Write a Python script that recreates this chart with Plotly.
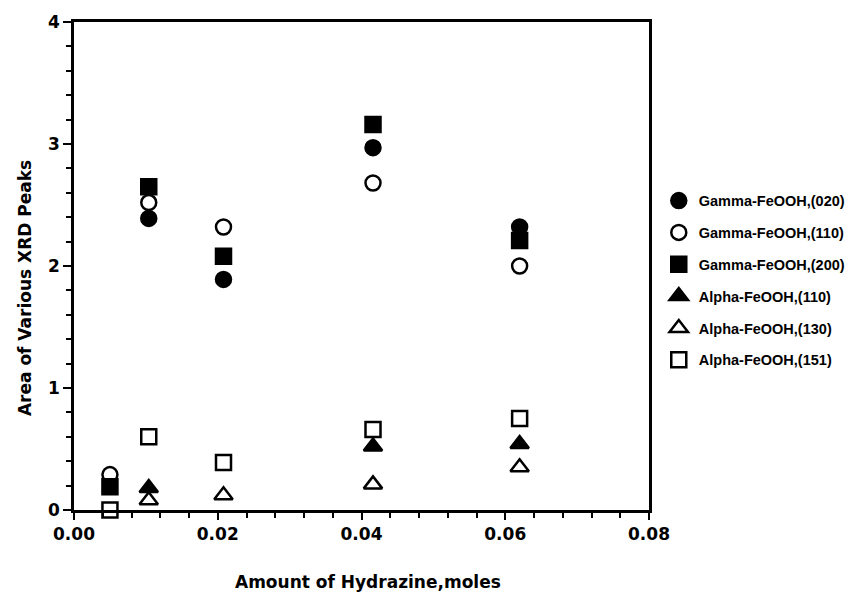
import plotly.graph_objects as go

# Hydrazine amount (moles) for each sample
hydrazine = [0.005, 0.0104, 0.0208, 0.0416, 0.062]

# Integrated XRD peak areas per reflection
gamma_020 = [None, 2.39, 1.89, 2.97, 2.32]
gamma_110 = [0.29, 2.52, 2.32, 2.68, 2.00]
gamma_200 = [0.19, 2.65, 2.08, 3.16, 2.21]
alpha_110 = [None, 0.18, None, 0.52, 0.54]
alpha_130 = [None, 0.08, 0.12, 0.21, 0.35]
alpha_151 = [0.00, 0.60, 0.39, 0.66, 0.75]

x_ticks = [0.00, 0.02, 0.04, 0.06, 0.08]
y_ticks = [0, 1, 2, 3, 4]

series = [
    ("Gamma-FeOOH,(020)", gamma_020, "circle", "black"),
    ("Gamma-FeOOH,(110)", gamma_110, "circle", "white"),
    ("Gamma-FeOOH,(200)", gamma_200, "square", "black"),
    ("Alpha-FeOOH,(110)", alpha_110, "triangle-up", "black"),
    ("Alpha-FeOOH,(130)", alpha_130, "triangle-up", "white"),
    ("Alpha-FeOOH,(151)", alpha_151, "square", "white"),
]

fig = go.Figure()
for i, (name, vals, sym, fill) in enumerate(series):
    size = 16 if sym == "triangle-up" else 15
    fig.add_trace(go.Scatter(
        x=hydrazine, y=vals, mode="markers", name=name,
        legendgroup=f"g{i}",
        cliponaxis=False,
        marker=dict(symbol=sym, size=size, color=fill,
                    line=dict(color="black", width=2.5)),
    ))

fig.update_layout(
    width=854, height=601,
    margin=dict(l=74, r=205, t=22, b=91, autoexpand=False),
    paper_bgcolor="white", plot_bgcolor="white",
    showlegend=True,
    legend=dict(
        x=1.017, xanchor="left", y=0.47, yanchor="middle",
        font=dict(family="Liberation Sans", size=14.5, color="black", weight="bold"),
        tracegroupgap=10,
        bgcolor="rgba(0,0,0,0)",
    ),
    xaxis=dict(
        range=[0, 0.08], tickvals=x_ticks,
        ticktext=[f"{v:.2f}" for v in x_ticks],
        ticks="outside", ticklen=7, tickwidth=2, tickcolor="black",
        minor=dict(dtick=0.004, ticks="outside", ticklen=5, tickwidth=2, tickcolor="black"),
        showline=True, linewidth=2.5, linecolor="black", mirror=True,
        showgrid=False, zeroline=False,
        tickfont=dict(family="DejaVu Sans", size=17, color="black", weight="bold"),
    ),
    yaxis=dict(
        range=[0, 4], tickvals=y_ticks,
        ticks="outside", ticklen=8, tickwidth=2, tickcolor="black",
        minor=dict(dtick=0.2, ticks="outside", ticklen=5, tickwidth=2, tickcolor="black"),
        showline=True, linewidth=2.5, linecolor="black", mirror=True,
        showgrid=False, zeroline=False,
        tickfont=dict(family="DejaVu Sans", size=17, color="black", weight="bold"),
    ),
    annotations=[
        dict(text="Area of Various XRD Peaks", xref="paper", yref="paper",
             x=-0.085, y=0.455, textangle=-90, showarrow=False,
             xanchor="center", yanchor="middle",
             font=dict(family="DejaVu Sans", size=17, color="black", weight="bold")),
        dict(text="Amount of Hydrazine,moles", xref="paper", yref="paper",
             x=0.511, y=-0.147, showarrow=False,
             xanchor="center", yanchor="middle",
             font=dict(family="DejaVu Sans", size=17, color="black", weight="bold")),
    ],
)

fig.write_html("out.html")
